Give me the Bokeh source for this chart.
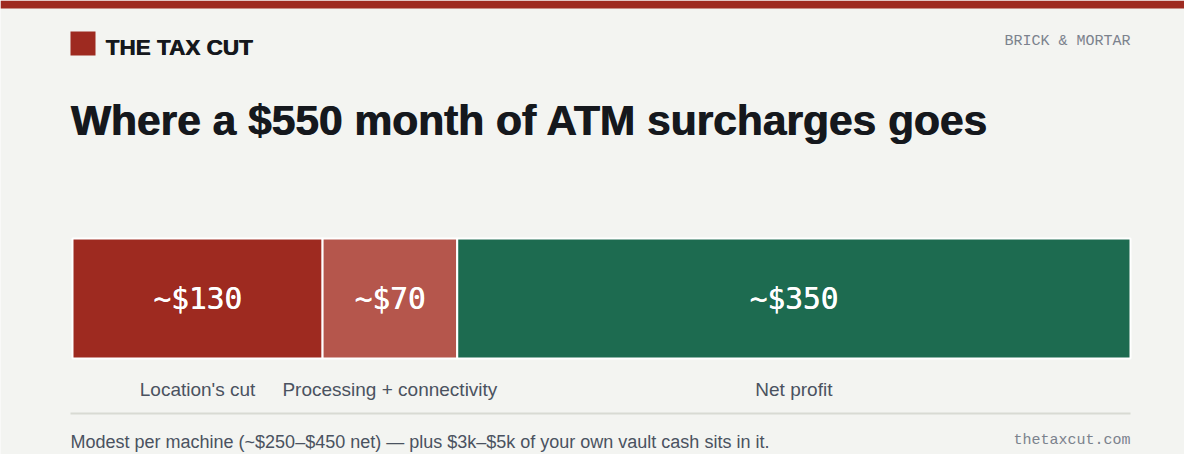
from bokeh.plotting import figure
from bokeh.models import Range1d, ColumnDataSource
from bokeh.core.properties import value
from bokeh.embed import file_html
from bokeh.resources import INLINE

# Data: one month of ATM surcharges ($550) split into three parts
categories = ["Location's cut", "Processing + connectivity", "Net profit"]
amounts = [130, 70, 350]
amount_labels = ["~$130", "~$70", "~$350"]
colors = ["#9e2a20", "#b5564c", "#1d6b50"]

BG = "#f3f4f1"
INK = "#15181d"
GREY = "#4a5260"
MONO_GREY = "#7b828d"

W, H = 1184, 454
# canvas pixels -> dollars on x (bar runs from px 72 to 1130 for the $550 total)
total = sum(amounts)
scale = (1130 - 72) / total


def px(x):
    return (x - 72) / scale


p = figure(width=W, height=H, output_backend="svg", toolbar_location=None,
           x_range=Range1d(px(0), px(W)), y_range=Range1d(H, 0),
           min_border=0, outline_line_color=None)
p.axis.visible = False
p.grid.visible = False
p.background_fill_color = BG
p.border_fill_color = BG

# top band
p.quad(left=px(0), right=px(W), top=0, bottom=8, fill_color="#9e2a20", line_color=None)

# logo + brand (drawn twice, a hair apart, for a heavier weight)
p.quad(left=px(70), right=px(95), top=31, bottom=55, fill_color="#9e2a20", line_color=None)
p.text(x=[px(105), px(105.6)], y=[46.5, 46.5], text=["THE TAX CUT", "THE TAX CUT"],
       text_font=value("Liberation Sans"), text_font_style="bold", text_font_size="22.5px",
       text_color=INK, text_baseline="middle", text_align="left")
p.text(x=[px(1130)], y=[41], text=["BRICK & MORTAR"], text_font=value("Liberation Mono"),
       text_font_size="15px", text_color=MONO_GREY, text_baseline="middle", text_align="right")

# headline
head = "Where a $550 month of ATM surcharges goes"
p.text(x=[px(70), px(70.9)], y=[120, 120], text=[head, head],
       text_font=value("Liberation Sans"), text_font_style="bold", text_font_size="42.5px",
       text_color=INK, text_baseline="middle", text_align="left")

# stacked bar
lefts, rights = [], []
run = 0
for a in amounts:
    lefts.append(run)
    run += a
    rights.append(run)
mids = [(l + r) / 2 for l, r in zip(lefts, rights)]

src = ColumnDataSource(dict(left=lefts, right=rights, mid=mids, color=colors,
                            cat=categories, lab=amount_labels))
p.quad(left="left", right="right", top=238, bottom=358, fill_color="color",
       line_color="white", line_width=2, source=src)
p.text(x="mid", y=298, text="lab", source=src, text_font=value("DejaVu Sans Mono"),
       text_font_size="29.5px", text_color="white",
       text_align="center", text_baseline="middle")
p.text(x="mid", y=298, x_offset=0.6, text="lab", source=src, text_font=value("DejaVu Sans Mono"),
       text_font_size="29.5px", text_color="white",
       text_align="center", text_baseline="middle")
p.text(x="mid", y=389, text="cat", source=src, text_font=value("Liberation Sans"),
       text_font_size="19px", text_color=GREY, text_align="center", text_baseline="middle")

# rule + footer
p.segment(x0=px(70), x1=px(1130), y0=413, y1=413, line_color="#d8dad3", line_width=2)
p.text(x=[px(70)], y=[441], text=["Modest per machine (~$250\u2013$450 net) \u2014 plus $3k\u2013$5k of your own vault cash sits in it."],
       text_font=value("Liberation Sans"), text_font_size="18px", text_color=GREY,
       text_align="left", text_baseline="middle")
p.text(x=[px(1130)], y=[440], text=["thetaxcut.com"], text_font=value("Liberation Mono"),
       text_font_size="15px", text_color=MONO_GREY, text_align="right", text_baseline="middle")

open("out.html", "w").write(file_html(p, INLINE))
